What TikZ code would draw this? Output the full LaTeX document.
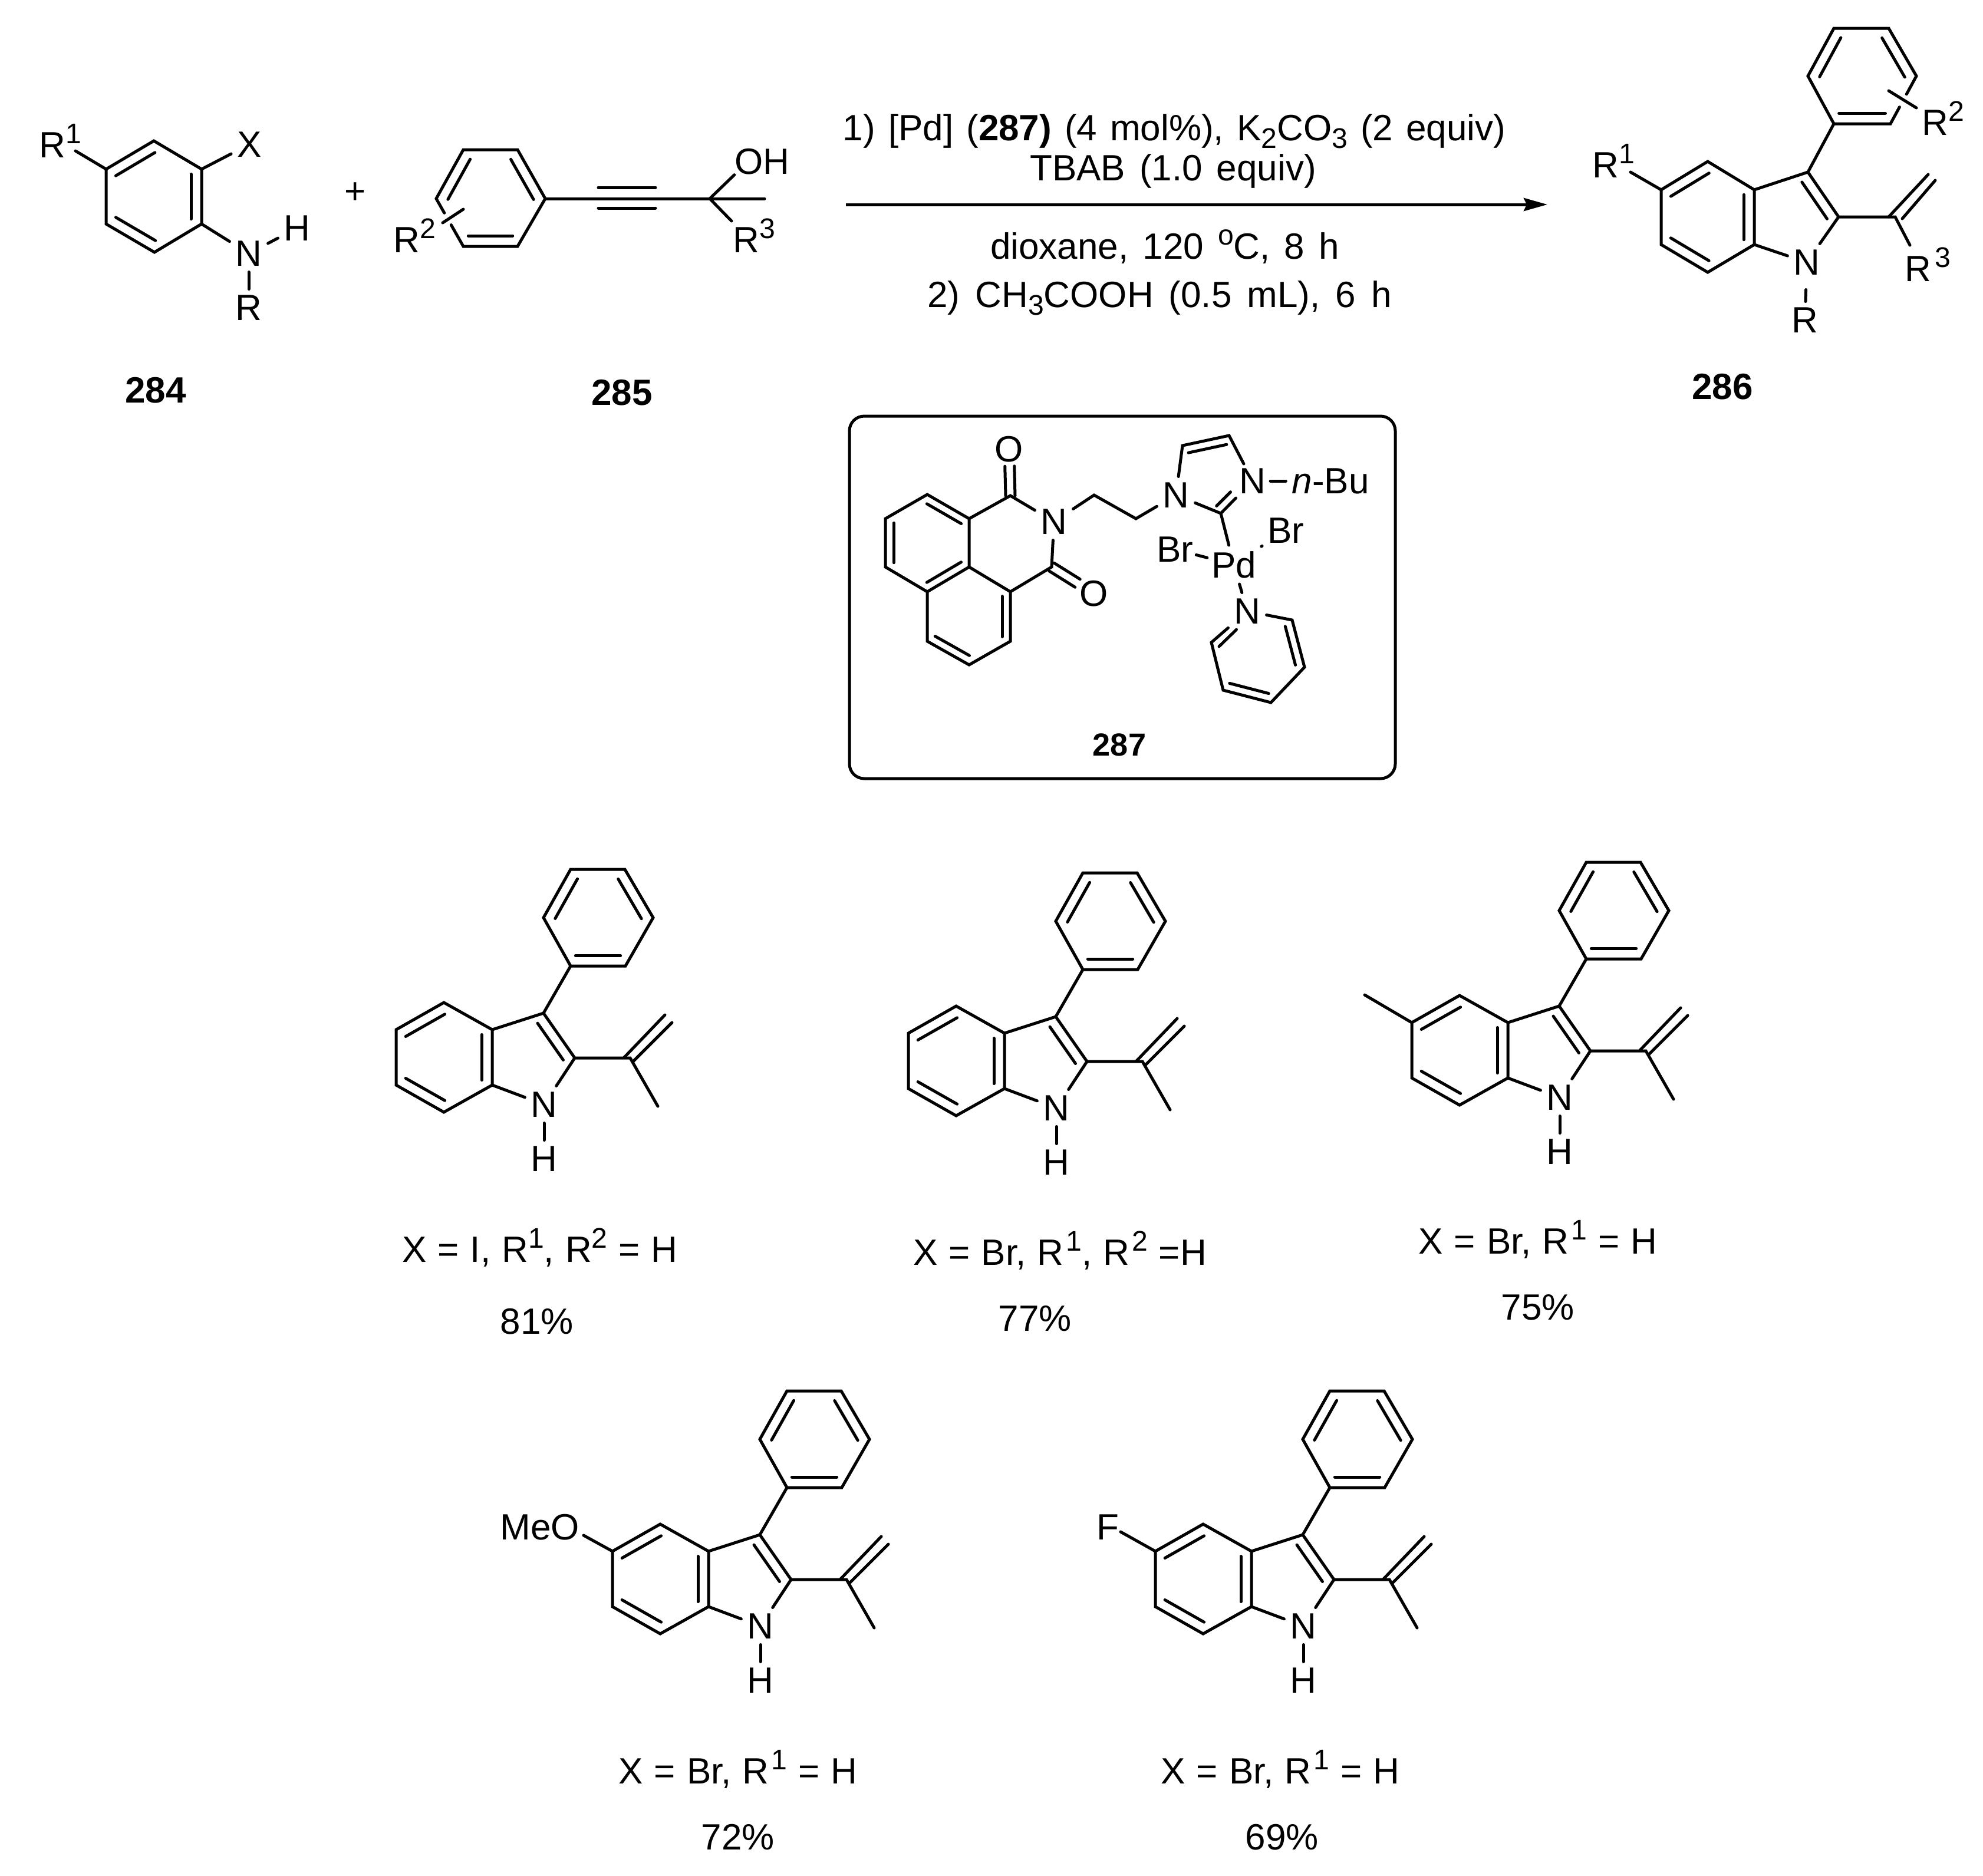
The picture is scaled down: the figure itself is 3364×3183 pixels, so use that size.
\documentclass[tikz,border=0pt]{standalone}
\usepackage{fontspec}
\setmainfont{Liberation Sans}
\usetikzlibrary{calc,arrows.meta}
\newcommand{\chemfont}{\fontsize{17.64pt}{21pt}\selectfont}
\newcommand{\sups}[1]{\raisebox{2.4mm}{\fontsize{13.7pt}{15pt}\selectfont #1}}
\newcommand{\supg}[1]{\hspace{.4mm}\sups{#1}}
\newcommand{\subs}[1]{\raisebox{-1.3mm}{\fontsize{13.7pt}{15pt}\selectfont #1}}
\tikzset{
  bond/.style={line width=.5mm,line cap=round},
  atom/.style={font=\chemfont,inner sep=.95mm},
  lab/.style={font=\chemfont,inner sep=0pt,anchor=base},
  labw/.style={font=\chemfont,inner sep=0pt,anchor=base west},
  numlab/.style={font=\chemfont\bfseries,inner sep=0pt,anchor=base},
  wordgap/.style={execute at begin node={\spaceskip=#1\relax}}
}
\newcommand{\inbond}[3][1.8mm]{\draw[bond] ($(#2)!.09!(#3)!#1!90:(#3)$) -- ($(#3)!.09!(#2)!#1!-90:(#2)$);}
\newcommand{\indole}[2]{
  \begin{scope}[shift={(#2)}]
    \coordinate (#1c3) at (0,0);
    \coordinate (#1c2) at (53,76);
    \coordinate (#1c3a) at (-87,28);
    \coordinate (#1c7a) at (-87,122);
    \coordinate (#1c4) at (-169,-18);
    \coordinate (#1c5) at (-250,28);
    \coordinate (#1c6) at (-250,122);
    \coordinate (#1c7) at (-169,168);
    \coordinate (#1p1) at (46,-80);
    \coordinate (#1p2) at (139,-80);
    \coordinate (#1p3) at (186,-162);
    \coordinate (#1p4) at (138,-244);
    \coordinate (#1p5) at (46,-244);
    \coordinate (#1p6) at (0,-162);
    \coordinate (#1v) at (147,76);
    \coordinate (#1va) at (137,75);
    \coordinate (#1vb) at (206,3);
    \coordinate (#1vc) at (152,82);
    \coordinate (#1vd) at (218,16);
    \coordinate (#1me) at (194,158);
    \path (1,155) node[atom] (#1N) {N};
    \path (1,247) node[atom] (#1H) {H};
  \end{scope}
  \draw[bond] (#1c3a) -- (#1c4) -- (#1c5) -- (#1c6) -- (#1c7) -- (#1c7a) -- cycle;
  \draw[bond] (#1c3a) -- (#1c3) -- (#1c2) -- (#1N) -- (#1c7a);
  \draw[bond] (#1N) -- (#1H);
  \draw[bond] (#1p1) -- (#1p2) -- (#1p3) -- (#1p4) -- (#1p5) -- (#1p6) -- cycle;
  \draw[bond] (#1c3) -- (#1p1);
  \draw[bond] (#1c2) -- (#1v) -- (#1me);
  \draw[bond] (#1va) -- (#1vb);
  \draw[bond] (#1vc) -- (#1vd);
  \inbond{#1c4}{#1c5}
  \inbond{#1c6}{#1c7}
  \inbond{#1c7a}{#1c3a}
  \inbond{#1c2}{#1c3}
  \inbond{#1p1}{#1p2}
  \inbond{#1p3}{#1p4}
  \inbond{#1p5}{#1p6}
}
\begin{document}
\begin{tikzpicture}[x=.1mm,y=-.1mm]
  \useasboundingbox (0,0) rectangle (3364,3183);

  \coordinate (a1) at (261,239);
  \coordinate (a2) at (342,287);
  \coordinate (a3) at (342,380);
  \coordinate (a4) at (262,428);
  \coordinate (a5) at (180,380);
  \coordinate (a6) at (180,287);
  \coordinate (aR) at (128,256);
  \path (66,267) node[labw] (Rone) {R\sups{1}};
  \path (423,245) node[atom] (X) {X};
  \path (422,430) node[atom] (Na) {N};
  \path (504,387) node[atom] (Ha) {H};
  \path (422,522) node[atom] (Ra) {R};
  \draw[bond] (a1) -- (a2) -- (a3) -- (a4) -- (a5) -- (a6) -- cycle;
  \draw[bond] (a6) -- (aR);
  \draw[bond] (a2) -- (X);
  \draw[bond] (a3) -- (Na);
  \draw[bond] (Na) -- (Ha);
  \draw[bond] (Na) -- (Ra);
  \inbond{a1}{a6}
  \inbond{a5}{a4}
  \inbond{a3}{a2}
  \path (264,683) node[numlab] (n284) {284};
  \path (603,328) node[font=\chemfont,inner sep=0pt] (plus) {+};

  \coordinate (b1) at (786,254);
  \coordinate (b2) at (878,254);
  \coordinate (b3) at (925,337);
  \coordinate (b4) at (878,418);
  \coordinate (b5) at (786,418);
  \coordinate (b6) at (740,337);
  \coordinate (bc) at (1204,337);
  \coordinate (bme) at (1297,337);
  \coordinate (tr1) at (1015,318);
  \coordinate (tr2) at (1112,318);
  \coordinate (tr3) at (1015,353);
  \coordinate (tr4) at (1112,353);
  \coordinate (bR2a) at (786,355);
  \coordinate (bR2b) at (751,378);
  \coordinate (bR3) at (1241,375);
  \path (667,428) node[labw] (Rtwo) {R\sups{2}};
  \path (1243,428) node[labw] (Rthree) {R\sups{3}};
  \path (1293,274) node[atom,inner sep=0pt] (OH) {OH};
  \draw[bond] (b6) -- (b1) -- (b2) -- (b3) -- (b4) -- (b5) -- ($(b6)!.55!(b5)$);
  \draw[bond] (b6) -- ($(b6)!.3!(b5)$);
  \draw[bond] (bR2a) -- (bR2b);
  \draw[bond] (b3) -- (bc) -- (bme);
  \draw[bond] (tr1) -- (tr2);
  \draw[bond] (tr3) -- (tr4);
  \draw[bond] (bc) -- (OH.south west);
  \draw[bond] (bc) -- (bR3);
  \inbond{b1}{b6}
  \inbond{b5}{b4}
  \inbond{b3}{b2}
  \path (1055,687) node[numlab] (n285) {285};

  \coordinate (arstart) at (1435,347);
  \coordinate (arend) at (2625,347);
  \draw[line width=.5mm,-{Stealth[length=4mm,width=2.2mm,inset=.5mm]}] (arstart) -- (arend);
  \path (1992,238) node[lab,wordgap=2.2mm] (cond1) {1) [Pd] (\textbf{287)} (4 mol\%), K\subs{2}CO\subs{3} (2 equiv)};
  \path (1990,306) node[lab,wordgap=2.4mm] (cond2) {TBAB (1.0 equiv)};
  \path (1976,439) node[lab,wordgap=2.4mm] (cond3) {dioxane, 120 \sups{o}C, 8 h};
  \path (1967,521) node[lab,wordgap=2.6mm] (cond4) {2) CH\subs{3}COOH (0.5 mL), 6 h};

  \coordinate (c1) at (2897,274);
  \coordinate (c2) at (2976,322);
  \coordinate (c3) at (2976,415);
  \coordinate (c4) at (2897,462);
  \coordinate (c5) at (2818,415);
  \coordinate (c6) at (2818,322);
  \coordinate (c7) at (3067,292);
  \coordinate (c8) at (3119,368);
  \coordinate (c9) at (3215,368);
  \coordinate (cva) at (3204,368);
  \coordinate (cvb) at (3271,296);
  \coordinate (cvc) at (3227,371);
  \coordinate (cvd) at (3283,306);
  \coordinate (cR3) at (3240,416);
  \coordinate (cR1) at (2766,292);
  \coordinate (d1) at (3111,210);
  \coordinate (d2) at (3207,210);
  \coordinate (d3) at (3251,129);
  \coordinate (d4) at (3204,48);
  \coordinate (d5) at (3111,48);
  \coordinate (d6) at (3067,129);
  \coordinate (dR2a) at (3204,154);
  \coordinate (dR2b) at (3251,183);
  \path (2701,301) node[labw] (Rc1) {R\sups{1}};
  \path (3260,229) node[labw] (Rc2) {R\sups{2}};
  \path (3231,477) node[labw] (Rc3) {R\hspace{.6mm}\sups{3}};
  \path (3065,445) node[atom] (Nc) {N};
  \path (3062,543) node[atom] (Rc) {R};
  \draw[bond] (c1) -- (c2) -- (c3) -- (c4) -- (c5) -- (c6) -- cycle;
  \draw[bond] (c2) -- (c7) -- (c8) -- (Nc) -- (c3);
  \draw[bond,shorten <=1.5mm] (Nc) -- (Rc);
  \draw[bond] (c7) -- (d1);
  \draw[bond] (c8) -- (c9) -- (cR3);
  \draw[bond] (cva) -- (cvb);
  \draw[bond] (cvc) -- (cvd);
  \draw[bond] (c6) -- (cR1);
  \draw[bond] (d3) -- (d4) -- (d5) -- (d6) -- (d1) -- (d2) -- ($(d3)!.65!(d2)$);
  \draw[bond] (d3) -- ($(d3)!.38!(d2)$);
  \draw[bond] (dR2a) -- (dR2b);
  \inbond{c1}{c6}
  \inbond{c5}{c4}
  \inbond{c3}{c2}
  \inbond{c8}{c7}
  \inbond{d1}{d2}
  \inbond{d3}{d4}
  \inbond{d5}{d6}
  \path (2922,677) node[numlab] (n286) {286};

  \draw[bond,rounded corners=2.5mm] (1441,706) rectangle (2367,1321);
  \coordinate (e1) at (1573,839);
  \coordinate (e2) at (1644,880);
  \coordinate (e3) at (1644,962);
  \coordinate (e4) at (1573,1004);
  \coordinate (e5) at (1502,962);
  \coordinate (e6) at (1502,880);
  \coordinate (e7) at (1714,1004);
  \coordinate (e8) at (1714,1088);
  \coordinate (e9) at (1644,1128);
  \coordinate (e10) at (1573,1088);
  \coordinate (co1) at (1714,841);
  \coordinate (co2) at (1784,962);
  \coordinate (ch1) at (1856,840);
  \coordinate (ch2) at (1927,880);
  \coordinate (f1) at (2006,756);
  \coordinate (f2) at (2085,739);
  \coordinate (f3) at (2071,871);
  \coordinate (fn) at (2100,842);
  \coordinate (g1) at (2192,1052);
  \coordinate (g2) at (2213,1132);
  \coordinate (g3) at (2156,1192);
  \coordinate (g4) at (2075,1171);
  \coordinate (g5) at (2055,1090);
  \coordinate (gn) at (2091,1055);
  \path (1712,762) node[atom] (Oa) {O};
  \path (1856,1007) node[atom] (Ob) {O};
  \path (1788,885) node[atom] (Ne) {N};
  \path (1995,840) node[atom] (Nf) {N};
  \path (2125,816) node[atom,inner sep=.7mm] (Ng) {N};
  \path (2257,816) node[atom] (nBu) {\textit{n}-Bu};
  \path (2093,958) node[atom] (Pd) {Pd};
  \path (1993,932) node[atom] (Bra) {Br};
  \path (2181,900) node[atom] (Brb) {Br};
  \path (2116,1037) node[atom] (Npy) {N};
  \draw[bond] (e1) -- (e2) -- (e3) -- (e4) -- (e5) -- (e6) -- cycle;
  \draw[bond] (e3) -- (e7) -- (e8) -- (e9) -- (e10) -- (e4);
  \draw[bond] (e2) -- (co1) -- (Ne) -- (co2) -- (e7);
  \draw[bond] (Ne) -- (ch1) -- (ch2) -- (Nf) -- (f1) -- (f2) -- (Ng) -- (f3) -- (Nf);
  \draw[bond] (f3) -- (Pd);
  \draw[bond] (Ng) -- (nBu);
  \draw[bond,shorten <=-.5mm,shorten >=-.3mm] (Bra) -- (Pd);
  \draw[bond] (Brb) -- (Pd);
  \draw[bond] (Pd) -- (Npy);
  \draw[bond] (Npy) -- (g1) -- (g2) -- (g3) -- (g4) -- (g5) -- (Npy);
  \draw[bond,shorten >=2.9mm] ($(co1)!.8mm!90:(Oa)$) -- ($(Oa)!.8mm!-90:(co1)$);
  \draw[bond,shorten >=2.9mm] ($(co1)!.8mm!-90:(Oa)$) -- ($(Oa)!.8mm!90:(co1)$);
  \draw[bond,shorten >=3.3mm] ($(co2)!.8mm!90:(Ob)$) -- ($(Ob)!.8mm!-90:(co2)$);
  \draw[bond,shorten >=3.3mm] ($(co2)!.8mm!-90:(Ob)$) -- ($(Ob)!.8mm!90:(co2)$);
  \inbond[1.4mm]{e2}{e1}
  \inbond[1.4mm]{e6}{e5}
  \inbond[1.4mm]{e4}{e3}
  \inbond[1.4mm]{e8}{e7}
  \inbond[1.4mm]{e10}{e9}
  \inbond[1.4mm]{f2}{f1}
  \inbond[1.4mm]{f3}{fn}
  \inbond[1.4mm]{g2}{g1}
  \inbond[1.4mm]{g4}{g3}
  \inbond[1.4mm]{gn}{g5}
  \path (1899,1282) node[numlab,font=\fontsize{15.4pt}{18pt}\selectfont\bfseries] (n287) {287};

  \indole{t}{922,1719}
  \path (916,2141) node[lab,wordgap=1.9mm] (lt) {X = I, R\sups{1}, R\sups{2} = H};
  \path (911,2263) node[lab] (yt) {81\%};

  \indole{u}{1791,1725}
  \path (1798,2146) node[lab,wordgap=1.9mm] (lu) {X = Br, R\supg{1}, R\supg{2} =H};
  \path (1756,2258) node[lab] (yu) {77\%};

  \indole{v}{2645,1707}
  \coordinate (vMe) at (2315,1688);
  \draw[bond] (vc5) -- (vMe);
  \path (2609,2127) node[lab,wordgap=1.9mm] (lv) {X = Br, R\supg{1} = H};
  \path (2609,2239) node[lab] (yv) {75\%};

  \indole{w}{1289,2604}
  \path (916,2612) node[lab] (MeO) {MeO};
  \coordinate (wO) at (990,2605);
  \draw[bond] (wc5) -- (wO);
  \path (1252,3026) node[lab,wordgap=1.9mm] (lw) {X = Br, R\supg{1} = H};
  \path (1252,3138) node[lab] (yw) {72\%};

  \indole{x}{2210,2604}
  \path (1879,2612) node[lab] (Fx) {F};
  \coordinate (xF) at (1901,2599);
  \draw[bond] (xc5) -- (xF);
  \path (2172,3026) node[lab,wordgap=1.9mm] (lx) {X = Br, R\supg{1} = H};
  \path (2175,3138) node[lab] (yx) {69\%};
\end{tikzpicture}
\end{document}
